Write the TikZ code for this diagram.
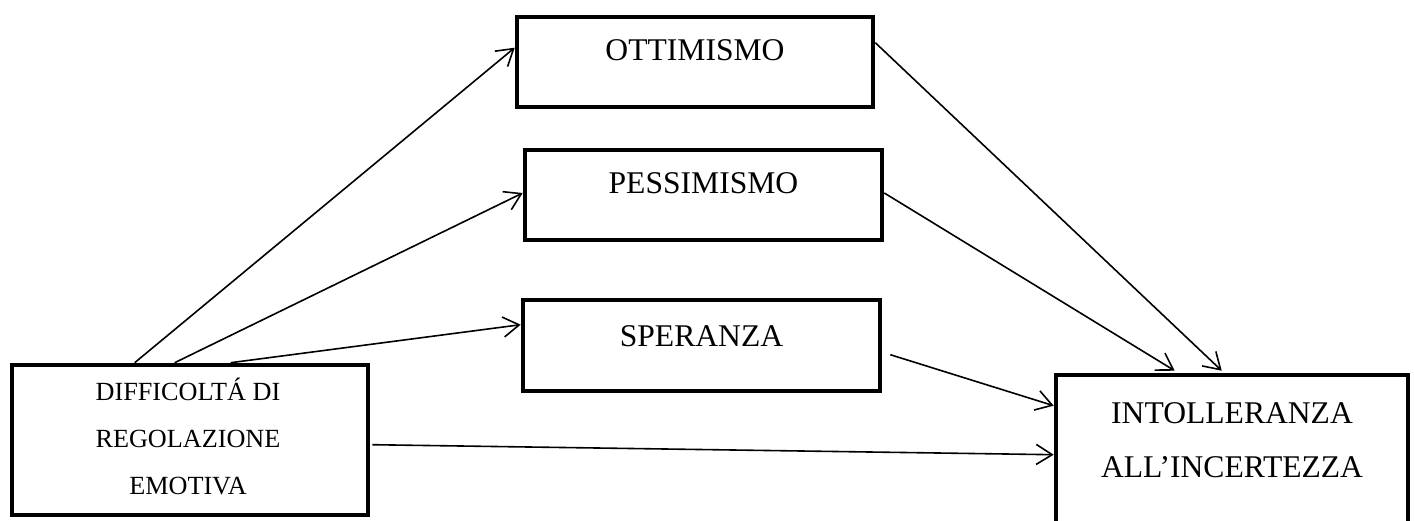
\documentclass[tikz,border=0pt]{standalone}
\usepackage{fontspec}
\setmainfont{Liberation Serif}
\usetikzlibrary{calc,arrows.meta}
\tikzset{
	box/.style={draw, line width=2.3pt, inner sep=0pt}, % thick frame round each variable
	lbl/.style={inner sep=0pt, anchor=base, font=\fontsize{15.8}{27}\selectfont},
	smalllbl/.style={inner sep=0pt, anchor=base, font=\fontsize{13.1}{23.5}\selectfont},
	conn/.style={line width=0.8pt, -{Straight Barb[length=8pt,width=10pt,line width=0.8pt]}},
}

\begin{document}
\begin{tikzpicture}[x=0.5pt,y=-0.5pt]
	% picture frame, same size as the page
	\useasboundingbox (0,0) rectangle (1414,520);

	% boxes
	\node[box, minimum width=178pt, minimum height=45pt] (ott) at (695,62) {};
	\node[box, minimum width=178.5pt, minimum height=45pt] (pess) at (703.5,195) {};
	\node[box, minimum width=178.5pt, minimum height=45.5pt] (sper) at (701.5,345.5) {};
	\node[box, minimum width=178pt, minimum height=75pt] (diff) at (190,440) {};
	\node[box, minimum width=176pt, minimum height=74.5pt] (int) at (1232,449.5) {};

	% texts
	\node[lbl] (ott-t) at ($(ott.north)+(0,46)$) {OTTIMISMO};
	\node[lbl] (pess-t) at ($(pess.north)+(0,46)$) {PESSIMISMO};
	\node[lbl] (sper-t) at ($(sper.north)+(0,49)$) {SPERANZA};
	\foreach \txt/\dy [count=\i] in {DIFFICOLTÁ DI/38, REGOLAZIONE/85, EMOTIVA/132}
		\node[smalllbl] (diff-t\i) at ($(diff.north)+(-2,\dy)$) {\txt};
	\node[lbl] (int-t1) at ($(int.north)+(0,51)$) {INTOLLERANZA};
	\node[lbl] (int-t2) at ($(int.north)+(0,105)$) {ALL’INCERTEZZA};

	% arrows from the predictor
	\draw[conn] ($(diff.north west)+(125,0)$) -- ($(ott.north west)+(0,33)$);
	\draw[conn] ($(diff.north west)+(165,0)$) -- ($(pess.west)+(0,-2)$);
	\draw[conn] ($(diff.north west)+(221,0)$) -- ($(sper.north west)+(0,27)$);
	\draw[conn] ($(diff.north east)+(2,82)$) -- ($(int.north west)+(0,82)$);

	% arrows into the outcome
	\draw[conn] ($(ott.north east)+(0,28)$) -- ($(int.north west)+(168,-2)$);
	\draw[conn] ($(pess.east)+(0,-2)$) -- ($(int.north west)+(121,-2)$);
	\draw[conn] ($(sper.north east)+(8,57)$) -- ($(int.north west)+(0,33)$);
\end{tikzpicture}
\end{document}
